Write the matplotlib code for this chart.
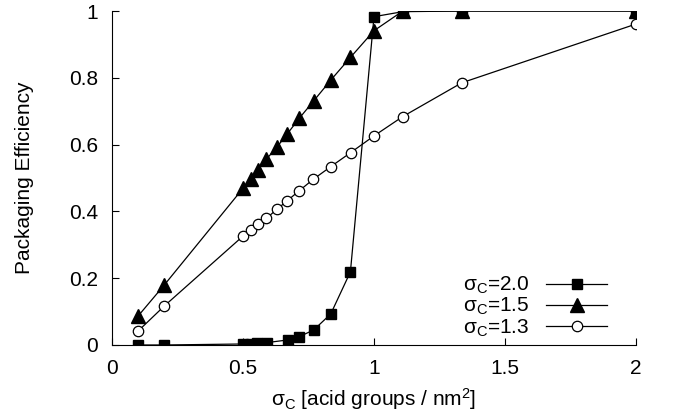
import numpy as np
import matplotlib
matplotlib.use('Agg')
import matplotlib.pyplot as plt

plt.rcParams['font.family'] = ['Liberation Sans', 'DejaVu Sans']
plt.rcParams['mathtext.fontset'] = 'custom'
plt.rcParams['mathtext.rm'] = 'Liberation Sans'
plt.rcParams['mathtext.it'] = 'Liberation Sans:italic'
plt.rcParams['font.size'] = 15

# data
x_20 = [0.1, 0.2, 0.5, 0.53, 0.555, 0.59, 0.67, 0.715, 0.77, 0.835, 0.91, 1.0, 1.11, 1.335, 2.0]
y_20 = [0.0, 0.0, 0.003, 0.004, 0.005, 0.007, 0.015, 0.025, 0.045, 0.093, 0.219, 0.983, 0.998, 1.0, 1.0]

x_15 = [0.1, 0.2, 0.5, 0.53, 0.557, 0.589, 0.629, 0.669, 0.715, 0.77, 0.835, 0.91, 1.0, 1.11, 1.335, 2.0]
y_15 = [0.087, 0.18, 0.469, 0.496, 0.524, 0.556, 0.592, 0.632, 0.679, 0.731, 0.793, 0.861, 0.941, 1.0, 1.0, 1.0]

x_13 = [0.1, 0.2, 0.5, 0.532, 0.557, 0.589, 0.629, 0.669, 0.715, 0.768, 0.835, 0.911, 1.0, 1.11, 1.335, 2.0]
y_13 = [0.042, 0.117, 0.326, 0.344, 0.361, 0.379, 0.406, 0.432, 0.462, 0.496, 0.534, 0.576, 0.626, 0.684, 0.785, 0.961]

labels = [r'$\mathrm{\sigma_C}$=2.0', r'$\mathrm{\sigma_C}$=1.5', r'$\mathrm{\sigma_C}$=1.3']

fig = plt.figure(figsize=(6.73, 4.2), dpi=100)
ax = fig.add_axes([0.1664, 0.1786, 0.7786, 0.7952])

ax.plot(x_20, y_20, color='black', lw=0.9, marker='s', ms=7, mfc='black', label=labels[0])
ax.plot(x_15, y_15, color='black', lw=0.9, marker='^', ms=10, mfc='black', label=labels[1])
ax.plot(x_13, y_13, color='black', lw=0.9, marker='o', ms=7.5, mfc='white', mew=0.9, label=labels[2])

ax.set_xlim(0, 2)
ax.set_ylim(0, 1)
ax.set_xticks([0, 0.5, 1, 1.5, 2])
ax.set_xticklabels(['0', '0.5', '1', '1.5', '2'])
ax.set_yticks([0, 0.2, 0.4, 0.6, 0.8, 1])
ax.set_yticklabels(['0', '0.2', '0.4', '0.6', '0.8', '1'])
ax.spines['top'].set_visible(False)
ax.spines['right'].set_visible(False)
ax.tick_params(direction='in', length=5, width=0.8, labelsize=15, pad=10)
ax.set_xlabel(r'$\mathrm{\sigma_C}$ [acid groups / nm$^2$]', fontsize=15, labelpad=6)
ax.set_ylabel('Packaging Efficiency', fontsize=15, labelpad=25)

ax.legend(loc='lower right', bbox_to_anchor=(0.972, -0.025), frameon=False, markerfirst=False,
          handlelength=2.9, labelspacing=0.0, handletextpad=0.8, fontsize=15,
          borderpad=0.2)

fig.savefig('out.png', dpi=100)
